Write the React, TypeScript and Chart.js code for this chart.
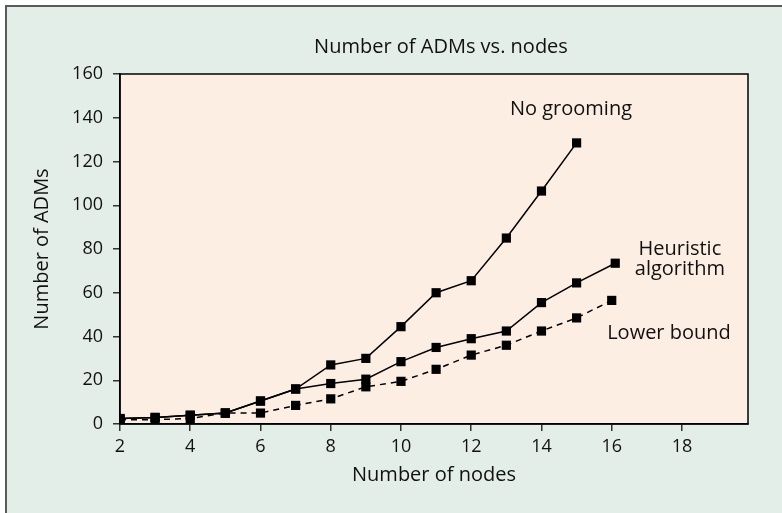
import React, { useEffect, useRef } from "react";
import { Chart, registerables } from "chart.js";

Chart.register(...registerables);

const nodesNoGrooming = [2, 3, 4, 5, 6, 7, 8, 9, 10, 11, 12, 13, 14, 15];
const admsNoGrooming = [2.5, 3, 4, 5, 10.5, 16, 27, 30, 44.5, 60, 65.5, 85, 106.5, 128.5];

const nodesHeuristic = [2, 3, 4, 5, 6, 7, 8, 9, 10, 11, 12, 13, 14, 15, 16.1];
const admsHeuristic = [2.5, 3, 4, 5, 10.5, 16, 18.5, 20.5, 28.5, 35, 39, 42.5, 55.5, 64.5, 73.5];

const nodesLower = [2, 3, 4, 5, 6, 7, 8, 9, 10, 11, 12, 13, 14, 15, 16];
const admsLower = [2, 2, 2.5, 5, 5, 8.5, 11.5, 17, 19.5, 25, 31.5, 36, 42.5, 48.5, 56.5];

const chartTitle = "Number of ADMs vs. nodes";
const xTitle = "Number of nodes";
const yTitle = "Number of ADMs";
const seriesLabels = ["No grooming", "Heuristic algorithm", "Lower bound"];

const FONT = "'Open Sans', 'DejaVu Sans', sans-serif";

const zip = (xs: number[], ys: number[]) => xs.map((x, i) => ({ x, y: ys[i] }));

const decorPlugin = {
  id: "decor",
  beforeDraw(chart: any) {
    const { ctx, chartArea } = chart;
    const W = chart.width;
    const H = chart.height;
    ctx.save();
    ctx.fillStyle = "#ffffff";
    ctx.fillRect(0, 0, W, H);
    ctx.fillStyle = "#e4eee8";
    ctx.fillRect(6, 6, W, H);
    ctx.strokeStyle = "#5a5a5a";
    ctx.lineWidth = 2;
    ctx.beginPath();
    ctx.moveTo(6, H + 2);
    ctx.lineTo(6, 6);
    ctx.lineTo(W + 2, 6);
    ctx.stroke();
    ctx.fillStyle = "#fdeee4";
    ctx.fillRect(chartArea.left, chartArea.top, chartArea.right - chartArea.left, chartArea.bottom - chartArea.top);
    ctx.restore();
  },
  afterDraw(chart: any) {
    const { ctx, chartArea, scales } = chart;
    ctx.save();
    ctx.strokeStyle = "#000";
    ctx.lineWidth = 1.5;
    ctx.strokeRect(chartArea.left, chartArea.top, chartArea.right - chartArea.left, chartArea.bottom - chartArea.top);
    ctx.fillStyle = "#111";
    ctx.textAlign = "center";
    ctx.textBaseline = "middle";
    ctx.font = `20px ${FONT}`;
    ctx.fillText(chartTitle, 441, 47);
    ctx.fillText(xTitle, (chartArea.left + chartArea.right) / 2, 475);
    ctx.save();
    ctx.translate(42, (chartArea.top + chartArea.bottom) / 2);
    ctx.rotate(-Math.PI / 2);
    ctx.fillText(yTitle, 0, 0);
    ctx.restore();
    // annotations anchored to data coordinates
    ctx.font = `20px ${FONT}`;
    const xs = scales.x;
    const ys = scales.y;
    ctx.fillText(seriesLabels[0], xs.getPixelForValue(14.84), ys.getPixelForValue(144));
    const parts = seriesLabels[1].split(" ");
    ctx.fillText(parts[0], xs.getPixelForValue(17.94), ys.getPixelForValue(80));
    ctx.fillText(parts[1], xs.getPixelForValue(17.94), ys.getPixelForValue(70.5));
    ctx.textAlign = "left";
    ctx.fillText(seriesLabels[2], xs.getPixelForValue(15.87), ys.getPixelForValue(41.6));
    ctx.restore();
  },
};

export default function App() {
  const ref = useRef<HTMLCanvasElement | null>(null);
  useEffect(() => {
    document.body.style.margin = "0";
    const common = {
      borderColor: "#000",
      backgroundColor: "#000",
      borderWidth: 1.5,
      pointStyle: "rect",
      pointRadius: 6.5,
      pointBackgroundColor: "#000",
      pointBorderColor: "#000",
      pointBorderWidth: 0,
      tension: 0,
      fill: false,
    };
    const chart = new Chart(ref.current as HTMLCanvasElement, {
      type: "line",
      data: {
        datasets: [
          { ...common, label: seriesLabels[0], data: zip(nodesNoGrooming, admsNoGrooming) },
          { ...common, label: seriesLabels[1], data: zip(nodesHeuristic, admsHeuristic) },
          { ...common, label: seriesLabels[2], data: zip(nodesLower, admsLower), borderDash: [6, 5] },
        ],
      },
      options: {
        animation: false,
        responsive: false,
        maintainAspectRatio: false,
        layout: { padding: { left: 0, right: 34, top: 74, bottom: 0 } },
        plugins: { legend: { display: false }, title: { display: false }, tooltip: { enabled: false } },
        scales: {
          x: {
            type: "linear",
            min: 2,
            max: 19.88,
            afterFit: (s: any) => { s.height = 89; },
            border: { display: true, color: "#000", width: 1.5 },
            grid: { display: true, drawOnChartArea: false, drawTicks: true, tickLength: 7, color: "#333", lineWidth: 1.5 },
            ticks: { stepSize: 2, includeBounds: false, padding: 5, color: "#111", font: { family: FONT, size: 18 }, maxRotation: 0 },
          },
          y: {
            type: "linear",
            min: 0,
            max: 160,
            afterFit: (s: any) => { s.width = 120; },
            border: { display: true, color: "#000", width: 1.5 },
            grid: { display: true, drawOnChartArea: false, drawTicks: true, tickLength: 7, color: "#333", lineWidth: 1.5 },
            ticks: { stepSize: 20, padding: 10, color: "#111", font: { family: FONT, size: 18 } },
          },
        },
      },
      plugins: [decorPlugin],
    } as any);
    return () => chart.destroy();
  }, []);
  return (
    <div style={{ position: "fixed", left: 0, top: 0, width: 782, height: 513 }}>
      <canvas ref={ref} width={782} height={513} style={{ width: 782, height: 513, display: "block" }} />
    </div>
  );
}
